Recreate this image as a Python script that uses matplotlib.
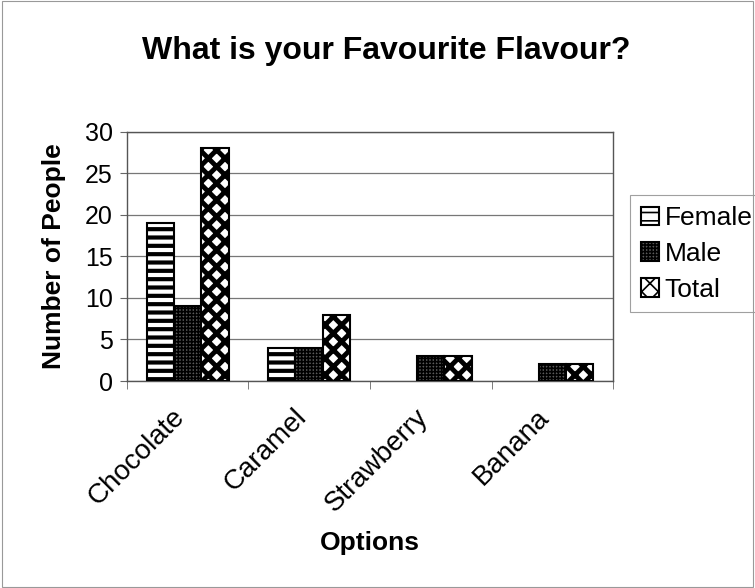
import numpy as np
import matplotlib.pyplot as plt
from matplotlib.patches import Rectangle
from matplotlib.transforms import ScaledTranslation

plt.rcParams['font.family'] = ['Liberation Sans', 'DejaVu Sans']
plt.rcParams['hatch.linewidth'] = 1.2

# data
options = ['Chocolate', 'Caramel', 'Strawberry', 'Banana']
female = [19, 4, 0, 0]
male = [9, 4, 3, 2]
total = [28, 8, 3, 2]

fig = plt.figure(figsize=(7.55, 5.88), dpi=100)
fig.patch.set_facecolor('white')
fig.add_artist(Rectangle((0.002, 0.002), 0.996, 0.996, transform=fig.transFigure,
                         fill=False, edgecolor='#999999', linewidth=0.8))

ax = fig.add_axes([0.168, 0.352, 0.644, 0.424])

x = np.arange(len(options))
w = 0.225
b1 = ax.bar(x - w, female, w, color='white', edgecolor='black', hatch='--', linewidth=1.5, label='Female', zorder=3)
b2 = ax.bar(x, male, w, color='#5a5a5a', edgecolor='black', hatch='+++++', linewidth=1.5, label='Male', zorder=3)
b3 = ax.bar(x + w, total, w, color='white', edgecolor='black', hatch='xx', linewidth=1.5, label='Total', zorder=3)

for bars, hlw in ((b1, 3.0), (b3, 3.5)):
    for p in bars:
        try:
            p.set_hatch_linewidth(hlw)
        except AttributeError:
            pass
# hide zero-height bars (no outline at the axis)
for bars in (b1, b2, b3):
    for p in bars:
        if p.get_height() == 0:
            p.set_visible(False)

ax.set_xlim(-0.5, len(options) - 0.5)
ax.set_ylim(0, 30)
ax.set_yticks(range(0, 31, 5))
ax.yaxis.grid(True, color='#777777', linewidth=0.9, zorder=0)

ax.set_xticks(x)
ax.set_xticklabels(options, rotation=45, ha='right', rotation_mode='anchor', fontsize=20)
ax.tick_params(axis='x', which='major', length=0, pad=8)
ax.set_xticks(np.arange(-0.5, len(options)), minor=True)
ax.tick_params(axis='x', which='minor', length=6, color='#666666')
ax.tick_params(axis='y', labelsize=18, length=5, color='#666666', pad=5)

# nudge the rotated labels down-left like the original
shift = ScaledTranslation(-0.16, -0.12, fig.dpi_scale_trans)
for lab in ax.get_xticklabels():
    lab.set_transform(lab.get_transform() + shift)

for s in ax.spines.values():
    s.set_color('#555555')
    s.set_linewidth(1.0)

ax.set_title('What is your Favourite Flavour?', fontsize=23, fontweight='bold', pad=52, x=0.533)
ax.set_ylabel('Number of People', fontsize=19, fontweight='bold', labelpad=14)
ax.set_xlabel('Options', fontsize=19, fontweight='bold', labelpad=10)

leg = ax.legend(loc='center left', bbox_to_anchor=(1.035, 0.51), fontsize=19,
                frameon=True, fancybox=False, edgecolor='#888888',
                handlelength=0.7, handleheight=0.7, handletextpad=0.2,
                labelspacing=0.45, borderpad=0.4, borderaxespad=0)
leg.get_frame().set_linewidth(0.8)

fig.savefig('out.png', dpi=100)
